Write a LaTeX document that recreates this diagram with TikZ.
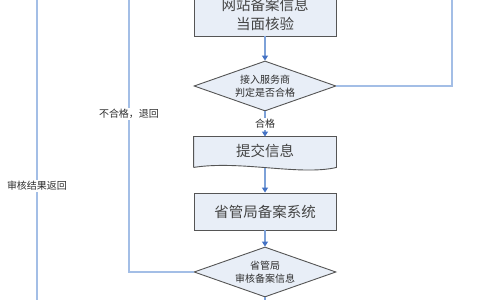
\documentclass[tikz,border=0pt]{standalone}
\usepackage{fontspec}
\setmainfont{Noto Sans CJK SC}
\usetikzlibrary{shapes.geometric,arrows.meta}
\definecolor{boxfill}{HTML}{E8EEF7}
\definecolor{boxdraw}{HTML}{555555}
\definecolor{lineblue}{HTML}{A3BEE6}
\definecolor{arrowblue}{HTML}{7DA1D8}
\definecolor{tipblue}{HTML}{4472C4}
\definecolor{txt}{HTML}{444444}
\definecolor{dtxt}{HTML}{2E2E2E}
\tikzset{
  boxstyle/.style={draw=boxdraw, line width=0.9pt, fill=boxfill, minimum width=142pt,
    align=center, text=txt, font=\fontsize{14.5}{19}\selectfont, inner sep=0pt},
  decision/.style={diamond, draw=boxdraw, line width=0.9pt, fill=boxfill, minimum width=142pt,
    minimum height=50pt, aspect=2.84, inner sep=0pt, align=center, text=dtxt,
    font=\fontsize{10}{12.5}\selectfont},
  flow/.style={draw=arrowblue, line width=1.1pt, -{Triangle[length=5pt,width=6pt,color=tipblue]}},
  back/.style={draw=lineblue, line width=1.3pt},
  lbl/.style={fill=white, text=dtxt, inner sep=1pt, font=\fontsize{10}{12}\selectfont}
}
\begin{document}
\begin{tikzpicture}[x=1pt,y=1pt]
\useasboundingbox (0,0) rectangle (480,300);
% nodes
\node[boxstyle, minimum height=44pt] (b1) at (265,286) {网站备案信息\\当面核验};
\node[decision] (d1) at (265,214) {接入服务商\\判定是否合格};
\node[boxstyle, draw=none, fill=none, minimum height=30pt] (b2) at (265,148) {};
\fill[boxfill] (b2.north west) -- (b2.north east) -- (b2.south east)
  .. controls (300,124) and (240,140) .. (b2.south west) -- cycle;
\draw[draw=boxdraw, line width=0.9pt] (b2.south west) -- (b2.north west) -- (b2.north east) -- (b2.south east)
  .. controls (300,124) and (240,140) .. (b2.south west);
\node[text=txt, font=\fontsize{14.5}{19}\selectfont] (b2t) at (265,149) {提交信息};
\node[boxstyle, minimum height=37pt] (b3) at (265,88.5) {省管局备案系统};
\node[decision] (d2) at (265,28) {省管局\\审核备案信息};
% free ends
\coordinate (top1) at (37,302);
\coordinate (bot1) at (37,-2);
\coordinate (top2) at (129,302);
\coordinate (turn2) at (129,28);
\coordinate (top3) at (452,302);
\coordinate (turn3) at (452,214);
\coordinate (bot2) at (265,-2);
% flow arrows
\draw[flow] (b1.south) -- (d1.north);
\draw[flow] (d1.south) -- (b2.north);
\node[lbl] (ok) at (265,176) {合格};
\draw[flow] (265,132) -- (b3.north);
\draw[flow] (b3.south) -- (d2.north);
\draw[draw=arrowblue, line width=1.1pt] (d2.south) -- (bot2);
% return lines
\draw[back] (top1) -- (bot1);
\node[lbl] (ret1) at (37,114) {审核结果返回};
\draw[back] (top2) -- (turn2) -- (d2.west);
\node[lbl] (ret2) at (129,186) {不合格，退回};
\draw[back] (top3) -- (turn3) -- (d1.east);
\end{tikzpicture}
\end{document}
